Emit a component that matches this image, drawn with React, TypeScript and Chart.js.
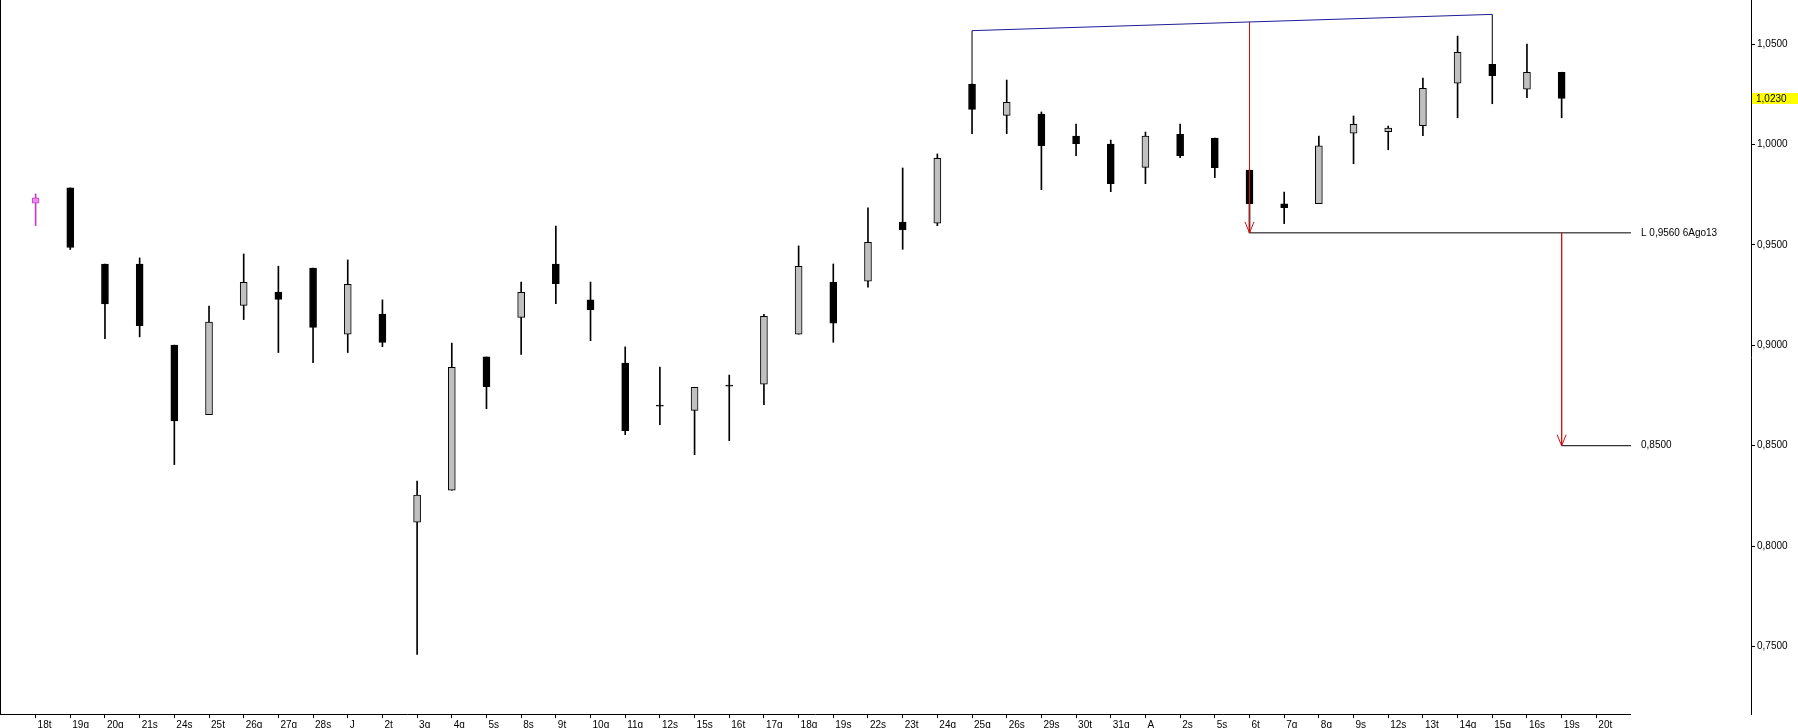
import { useEffect, useRef } from 'react';
import { Chart, registerables } from 'chart.js';

Chart.register(...registerables);

// ---- categories (x-axis tick labels) ----
const xLabels = ['18t','19q','20q','21s','24s','25t','26q','27q','28s','J','2t','3q','4q','5s','8s','9t','10q','11q','12s','15s','16t','17q','18q','19s','22s','23t','24q','25q','26s','29s','30t','31q','A','2s','5s','6t','7q','8q','9s','12s','13t','14q','15q','16s','19s','20t'];

// ---- OHLC series ----
const opens = [0.9708,0.9784,0.9405,0.9405,0.9001,0.8655,0.9199,0.9265,0.9385,0.9055,0.9156,0.8119,0.8278,0.8942,0.9139,0.9405,0.9226,0.8912,0.8702,0.8676,0.8802,0.8806,0.9055,0.9314,0.9319,0.9614,0.9608,1.0301,1.0145,1.0152,1.0042,1.0002,0.9886,1.0051,1.0032,0.9873,0.9704,0.9705,1.0056,1.0064,1.0094,1.0305,1.0399,1.0275,1.036];
const highs = [0.9754,0.9784,0.9405,0.9435,0.9001,0.9195,0.9455,0.9394,0.9385,0.9425,0.9226,0.8324,0.9011,0.8942,0.9315,0.9594,0.9315,0.8992,0.8892,0.8791,0.8852,0.9154,0.9495,0.9405,0.9684,0.9883,0.9953,1.0301,1.0321,1.0162,1.0102,1.0022,1.0062,1.0102,1.0032,0.9873,0.9763,1.0042,1.0142,1.0092,1.0331,1.054,1.0399,1.05,1.036];
const lows = [0.9596,0.9477,0.9033,0.9042,0.8406,0.8655,0.9128,0.8964,0.8914,0.8964,0.8993,0.7461,0.8278,0.8684,0.8955,0.9207,0.9023,0.8555,0.8605,0.8455,0.8525,0.8704,0.9055,0.9015,0.9289,0.9478,0.9596,1.0054,1.0054,0.9775,0.9944,0.9765,0.9805,0.9934,0.9835,0.956,0.9606,0.9705,0.9904,0.9974,1.0044,1.0133,1.0203,1.0233,1.0133];
const closes = [0.9734,0.9487,0.9206,0.9098,0.8624,0.9116,0.9313,0.9228,0.9089,0.9304,0.9014,0.8254,0.889,0.8794,0.9264,0.9307,0.9177,0.8575,0.8697,0.8791,0.8797,0.9144,0.9393,0.911,0.9513,0.9576,0.9931,1.0175,1.021,0.9994,1.0004,0.9805,1.0042,0.9944,0.9884,0.9705,0.9685,0.9993,1.0101,1.0082,1.028,1.0459,1.0343,1.036,1.023];

// ---- y-axis ticks ----
const yTicks = [0.75, 0.8, 0.85, 0.9, 0.95, 1.0, 1.05];
const lastPrice = 1.023;

// ---- annotations ----
const resistX = [27, 42];
const resistY = [1.0567, 1.0648];
const resistBaseY = [1.0301, 1.0399];
const supportLevel = 0.956;
const targetLevel = 0.85;
const arrow1X = 35;
const arrow2X = 44;
const levelEndX = 46;
const supportLabel = 'L 0,9560 6Ago13';
const targetLabel = '0,8500';

// ---- axis ranges ----
const X_MIN = -1.0265;
const X_MAX = 49.46;
const Y_MIN = 0.71639;
const Y_MAX = 1.07196;

const FONT = { family: '"Liberation Sans", Arial, sans-serif', size: 10 };
const fmt = (v: number) => v.toFixed(4).replace('.', ',');

export default function App() {
  const ref = useRef<HTMLCanvasElement | null>(null);

  useEffect(() => {
    document.body.style.margin = '0';
    const canvas = ref.current;
    if (!canvas) return;

    const bodyData = opens.map((o, i) => ({ x: i, y: [o, closes[i]] }));
    const wickData = lows.map((l, i) => ({ x: i, y: [l, highs[i]] }));
    const bodyFill = opens.map((o, i) => (i === 0 ? '#ec8cec' : closes[i] >= o ? '#c0c0c0' : '#000000'));
    const bodyBorder = opens.map((_, i) => (i === 0 ? '#c63cc6' : '#000000'));
    const wickColor = opens.map((_, i) => (i === 0 ? '#c63cc6' : '#000000'));

    const blueAt = (x: number) => resistY[0] + ((x - resistX[0]) / (resistX[1] - resistX[0])) * (resistY[1] - resistY[0]);

    const lineDs = (pts: { x: number; y: number }[], color: string) => ({
      type: 'line' as const,
      data: pts,
      borderColor: color,
      borderWidth: 1,
      pointRadius: 0,
      tension: 0,
      fill: false,
      order: -1,
    });

    const annot = {
      id: 'annot',
      afterDraw(chart: any) {
        const { ctx, chartArea } = chart;
        const xs = chart.scales.x;
        const ys = chart.scales.y;
        ctx.save();
        ctx.strokeStyle = '#000';
        ctx.lineWidth = 1;
        // left border
        ctx.beginPath();
        ctx.moveTo(chartArea.left + 0.5, chartArea.top);
        ctx.lineTo(chartArea.left + 0.5, chartArea.bottom);
        ctx.stroke();
        // x-axis baseline (partial)
        const bx = xs.getPixelForValue(levelEndX);
        ctx.beginPath();
        ctx.moveTo(chartArea.left, Math.round(chartArea.bottom) + 0.5);
        ctx.lineTo(bx, Math.round(chartArea.bottom) + 0.5);
        ctx.stroke();
        // arrowheads
        ctx.strokeStyle = '#d01010';
        const arrow = (xv: number, yv: number) => {
          const px = xs.getPixelForValue(xv);
          const py = ys.getPixelForValue(yv);
          ctx.beginPath();
          ctx.moveTo(px - 4.5, py - 11);
          ctx.lineTo(px, py);
          ctx.lineTo(px + 4.5, py - 11);
          ctx.stroke();
        };
        arrow(arrow1X, supportLevel);
        arrow(arrow2X, targetLevel);
        // level labels
        ctx.fillStyle = '#000';
        ctx.font = `${FONT.size}px ${FONT.family}`;
        ctx.textBaseline = 'middle';
        ctx.textAlign = 'left';
        const lx = xs.getPixelForValue(levelEndX) + 10;
        ctx.fillText(supportLabel, lx, ys.getPixelForValue(supportLevel));
        ctx.fillText(targetLabel, lx, ys.getPixelForValue(targetLevel));
        // last price marker
        const yy = ys.getPixelForValue(lastPrice);
        ctx.fillStyle = '#ffff00';
        ctx.fillRect(chartArea.right + 1, Math.round(yy) - 5, 47, 11);
        ctx.fillStyle = '#000';
        ctx.fillText(fmt(lastPrice), chartArea.right + 5, yy + 0.5);
        ctx.restore();
      },
    };

    const chart = new Chart(canvas, {
      type: 'bar',
      data: {
        datasets: [
          lineDs([{ x: resistX[0], y: resistY[0] }, { x: resistX[1], y: resistY[1] }], '#1c1c96'),
          lineDs([{ x: resistX[0], y: resistBaseY[0] }, { x: resistX[0], y: resistY[0] }], '#000000'),
          lineDs([{ x: resistX[1], y: resistBaseY[1] }, { x: resistX[1], y: resistY[1] }], '#000000'),
          lineDs([{ x: arrow1X, y: blueAt(arrow1X) }, { x: arrow1X, y: supportLevel }], '#d01010'),
          lineDs([{ x: arrow2X, y: supportLevel }, { x: arrow2X, y: targetLevel }], '#d01010'),
          lineDs([{ x: arrow1X, y: supportLevel }, { x: levelEndX, y: supportLevel }], '#000000'),
          lineDs([{ x: arrow2X, y: targetLevel }, { x: levelEndX, y: targetLevel }], '#000000'),
          {
            type: 'bar',
            data: bodyData as any,
            backgroundColor: bodyFill,
            borderColor: bodyBorder,
            borderWidth: 1,
            borderSkipped: false,
            barThickness: 7,
            grouped: false,
            order: 0,
          } as any,
          {
            type: 'bar',
            data: wickData as any,
            backgroundColor: wickColor,
            borderWidth: 0,
            barThickness: 1,
            grouped: false,
            order: 1,
          } as any,
        ],
      },
      options: {
        responsive: false,
        animation: false,
        events: [],
        layout: { padding: 0 },
        plugins: { legend: { display: false }, tooltip: { enabled: false } },
        scales: {
          x: {
            type: 'linear',
            min: X_MIN,
            max: X_MAX,
            offset: false,
            afterBuildTicks: (s: any) => {
              s.ticks = xLabels.map((_, i) => ({ value: i }));
            },
            afterFit: (s: any) => {
              s.height = 14;
              s.paddingLeft = 0;
              s.paddingRight = 0;
            },
            grid: { drawOnChartArea: false, drawTicks: true, tickLength: 4, color: '#000', offset: false },
            border: { display: false },
            ticks: {
              autoSkip: false,
              maxRotation: 0,
              minRotation: 0,
              align: 'start',
              labelOffset: 2,
              padding: 1,
              color: '#000',
              font: FONT,
              callback: (v: any) => xLabels[v] ?? '',
            },
          },
          y: {
            type: 'linear',
            position: 'right',
            min: Y_MIN,
            max: Y_MAX,
            afterBuildTicks: (s: any) => {
              s.ticks = yTicks.map((v) => ({ value: v }));
            },
            afterFit: (s: any) => {
              s.width = 47;
              s.paddingTop = 0;
              s.paddingBottom = 0;
            },
            grid: { drawOnChartArea: false, drawTicks: true, tickLength: 4, color: '#000' },
            border: { display: true, color: '#000', width: 1 },
            ticks: {
              padding: 2,
              color: '#000',
              font: FONT,
              callback: (v: any) => fmt(Number(v)),
            },
          },
        },
      } as any,
      plugins: [annot],
    });
    return () => chart.destroy();
  }, []);

  return (
    <div style={{ width: 1798, height: 728, background: '#fff' }}>
      <canvas ref={ref} width={1798} height={728} />
    </div>
  );
}
